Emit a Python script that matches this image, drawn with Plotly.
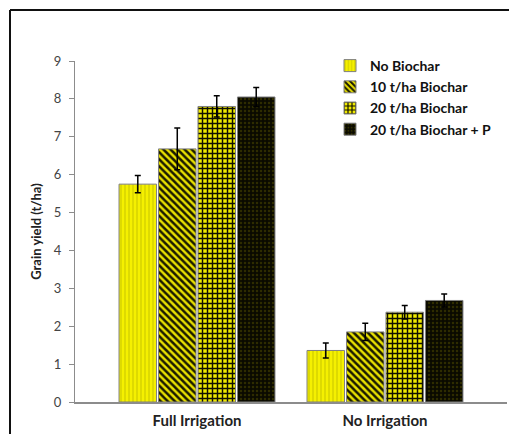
import plotly.graph_objects as go

categories = ["Full Irrigation", "No Irrigation"]
series_names = ["No Biochar", "10 t/ha Biochar", "20 t/ha Biochar", "20 t/ha Biochar + P"]
no_biochar = [5.75, 1.36]
biochar_10 = [6.68, 1.85]
biochar_20 = [7.80, 2.37]
biochar_20p = [8.05, 2.68]
err_no_biochar = [0.23, 0.20]
err_biochar_10 = [0.55, 0.23]
err_biochar_20 = [0.28, 0.18]
err_biochar_20p = [0.25, 0.17]
y_ticks = [0, 1, 2, 3, 4, 5, 6, 7, 8, 9]

values = [no_biochar, biochar_10, biochar_20, biochar_20p]
errors = [err_no_biochar, err_biochar_10, err_biochar_20, err_biochar_20p]
patterns = [
    dict(shape="|", bgcolor="#f5f000", fgcolor="#c8c400", size=4, solidity=0.25, fillmode="replace"),
    dict(shape="\\", bgcolor="#e8e000", fgcolor="#1a1a00", size=5, solidity=0.5, fillmode="replace"),
    dict(shape="+", bgcolor="#f0ea00", fgcolor="#111100", size=5, solidity=0.5, fillmode="replace"),
    dict(shape=".", bgcolor="#0a0a00", fgcolor="#2e2c00", size=4, solidity=0.3, fillmode="replace"),
]

fig = go.Figure()
for name, vals, errs, pat in zip(series_names, values, errors, patterns):
    fig.add_trace(go.Bar(
        name=name, x=categories, y=vals,
        marker=dict(color=pat["bgcolor"], pattern=pat, line=dict(color="#7f7f7f", width=1)),
        error_y=dict(type="data", array=errs, visible=True, color="#000000", thickness=1.5, width=3),
    ))

# page has an 8px body margin; work in figure pixel coordinates
OFF = 8
W, H = 509, 426
L, T = 75 - OFF, 61 - OFF
pw, ph = 432, 341
R = W - L - pw
B = H - T - ph

def px(x):
    return (x - OFF - L) / pw

def py(y):
    return (T + ph - (y - OFF)) / ph

fig.update_layout(
    width=W, height=H,
    margin=dict(l=L, r=R, t=T, b=B, pad=0, autoexpand=False),
    paper_bgcolor="white", plot_bgcolor="white",
    barmode="group", bargap=0.16, bargroupgap=0.05,
    font=dict(family="Lato, Open Sans, sans-serif", size=12, color="#222222"),
    showlegend=True,
    legend=dict(x=px(330), y=py(50), xanchor="left", yanchor="top",
                bgcolor="rgba(0,0,0,0)", tracegroupgap=0,
                font=dict(size=14, color="#111111", family="Lato, sans-serif", weight="bold"),
                itemwidth=30),
    xaxis=dict(
        type="category", range=[-0.649, 1.649], automargin=False,
        showline=True, linecolor="#8c8c8c", linewidth=1.5,
        ticks="", showgrid=False, zeroline=False,
        ticklabelstandoff=4,
        tickfont=dict(size=15, color="#222222", weight="bold"),
    ),
    yaxis=dict(
        range=[0, 9], tickvals=y_ticks, automargin=False,
        showline=True, linecolor="#8c8c8c", linewidth=1,
        ticks="outside", ticklen=5, tickcolor="#8c8c8c",
        showgrid=False, zeroline=False,
        ticklabelstandoff=5,
        tickfont=dict(size=13, color="#444444"),
        title=dict(text="Grain yield (t/ha)", font=dict(size=13, color="#222222", weight="bold"), standoff=9),
    ),
    shapes=[
        dict(type="line", xref="paper", yref="paper", x0=px(10), x1=px(10), y0=py(10), y1=py(H + 20),
             line=dict(color="#111111", width=2)),
        dict(type="line", xref="paper", yref="paper", x0=px(10), x1=px(W + 20), y0=py(10), y1=py(10),
             line=dict(color="#111111", width=2)),
    ],
)

fig.write_html("out.html")
